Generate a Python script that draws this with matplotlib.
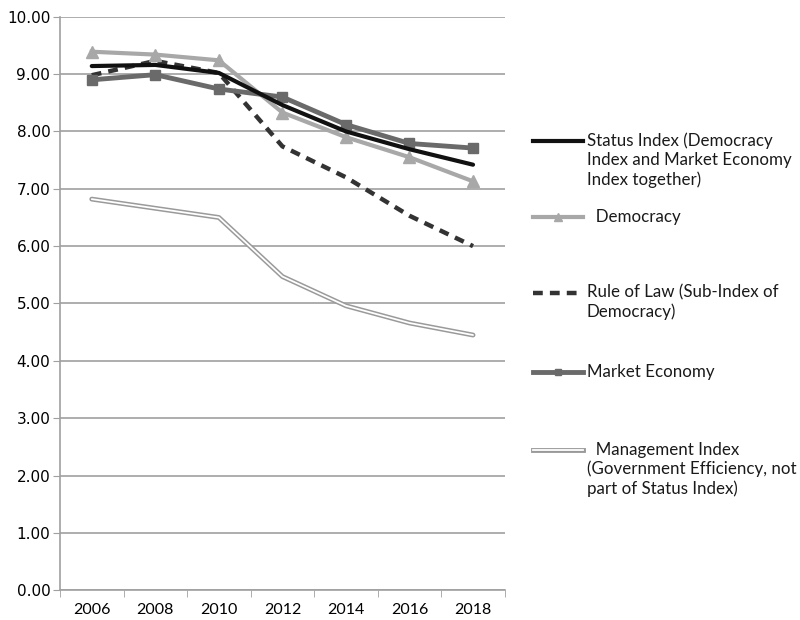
import matplotlib.pyplot as plt
from matplotlib.lines import Line2D

years = ['2006', '2008', '2010', '2012', '2014', '2016', '2018']

status_index = [9.14, 9.16, 9.02, 8.46, 8.00, 7.69, 7.42]
democracy = [9.39, 9.34, 9.24, 8.33, 7.90, 7.55, 7.13]
rule_of_law = [8.98, 9.23, 9.02, 7.74, 7.20, 6.53, 6.00]
market_economy = [8.90, 8.99, 8.74, 8.60, 8.12, 7.79, 7.71]
management = [6.82, 6.66, 6.50, 5.47, 4.96, 4.66, 4.45]

labels = [
    'Status Index (Democracy\nIndex and Market Economy\nIndex together)',
    '  Democracy',
    'Rule of Law (Sub-Index of\nDemocracy)',
    'Market Economy',
    '  Management Index\n(Government Efficiency, not\npart of Status Index)',
]

plt.rcParams['font.family'] = ['Lato', 'DejaVu Sans']

fig = plt.figure(figsize=(8, 6.2), dpi=100)
ax = fig.add_axes([0.075, 0.048, 0.556, 0.925])

x = range(len(years))
grid_c = '#a0a0a0'

ax.plot(x, status_index, color='#111111', lw=3, solid_capstyle='round', zorder=5)
ax.plot(x, democracy, color='#a8a8a8', lw=3, marker='^', ms=8, zorder=4)
ax.plot(x, rule_of_law, color='#333333', lw=3.2, ls=(0, (2.2, 1.6)), zorder=3)
ax.plot(x, market_economy, color='#6a6a6a', lw=3.5, marker='s', ms=7, zorder=4)
# double line: grey outline with a white core
ax.plot(x, management, color='#9a9a9a', lw=3.5, solid_capstyle='round', zorder=3)
ax.plot(x, management, color='white', lw=1.3, solid_capstyle='round', zorder=3)

ax.set_xlim(-0.5, len(years) - 0.5)
ax.set_ylim(0, 10)
ax.set_yticks([i for i in range(11)])
ax.set_yticklabels([f'{i:.2f}' for i in range(11)], fontsize=11, family='DejaVu Sans')
ax.set_xticks(list(x))
ax.set_xticklabels(years, fontsize=11.5)
ax.tick_params(axis='x', length=0, pad=9)
ax.tick_params(axis='y', length=5, color=grid_c, pad=2)
ax.set_xticks([i - 0.5 for i in range(len(years) + 1)], minor=True)
ax.tick_params(axis='x', which='minor', length=5, color=grid_c)

ax.yaxis.grid(True, color=grid_c, lw=1.2)
ax.set_axisbelow(True)
for s in ['top', 'right']:
    ax.spines[s].set_visible(False)
for s in ['left', 'bottom']:
    ax.spines[s].set_color(grid_c)
    ax.spines[s].set_linewidth(1.2)

# legend on the right, drawn entry by entry
entry_y = [141, 217, 293, 372, 450]
handles = [
    dict(color='#111111', lw=3),
    dict(color='#a8a8a8', lw=3, marker='^', ms=6, markevery=[1]),
    dict(color='#333333', lw=3.2, ls=(0, (2.2, 1.6))),
    dict(color='#6a6a6a', lw=3.5, marker='s', ms=5, markevery=[1]),
    dict(color='#9a9a9a', lw=3.5),
]
hx = [533 / 800, 558 / 800, 583 / 800]
for y_px, style, lab in zip(entry_y, handles, labels):
    yf = 1 - y_px / 620
    fig.add_artist(Line2D(hx, [yf] * 3, transform=fig.transFigure, **style))
    if lab.startswith('  Management'):
        fig.add_artist(Line2D(hx, [yf] * 3, transform=fig.transFigure, color='white', lw=1.3))
    fig.text(587 / 800, yf + 0.0135, lab, fontsize=12.2, va='top', ha='left', color='#1a1a1a',
             linespacing=1.22)

fig.savefig('out.png', dpi=100)
